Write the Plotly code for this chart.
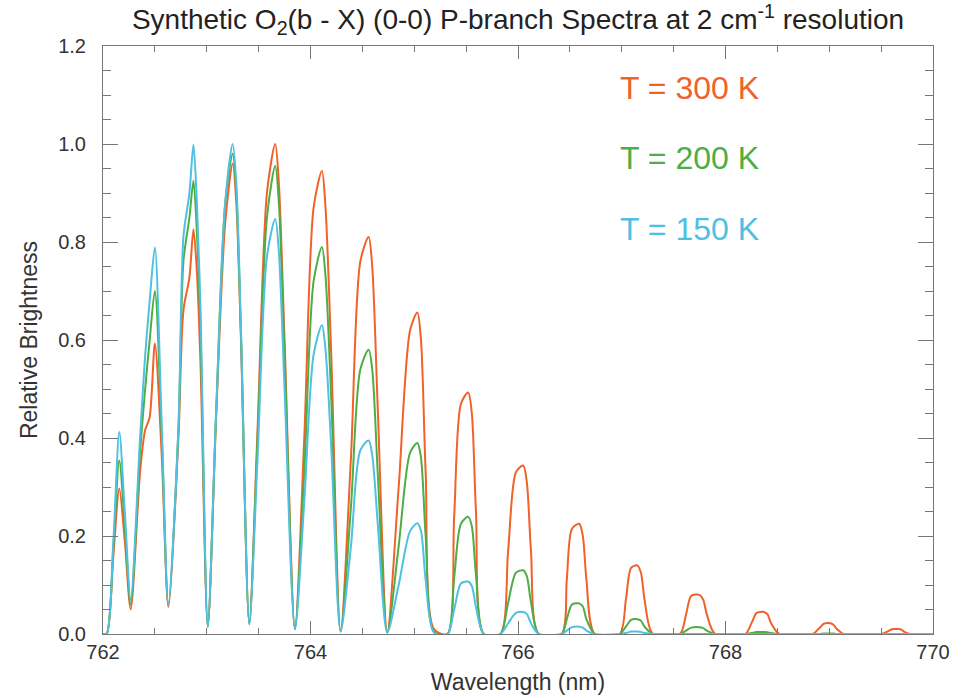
import plotly.graph_objects as go

# Wavelength sample points (nm), shared by the three synthetic spectra
wavelength = [
    762.00, 762.035, 762.10, 762.157, 762.21, 762.267,
    762.357, 762.405, 762.45, 762.50, 762.567, 762.63,
    762.727, 762.775, 762.833, 762.872, 762.905, 762.94, 763.01,
    763.09, 763.178, 763.25, 763.285, 763.33, 763.41,
    763.49, 763.58, 763.66, 763.695, 763.75, 763.85,
    763.94, 764.03, 764.11, 764.145, 764.20, 764.29,
    764.39, 764.48, 764.56, 764.595, 764.65, 764.74,
    764.85, 764.96, 765.03, 765.065, 765.11, 765.19,
    765.32, 765.385, 765.45, 765.52, 765.555, 765.595, 765.67,
    765.83, 765.905, 765.98, 766.05, 766.085, 766.125, 766.20,
    766.42, 766.47, 766.52, 766.59, 766.625, 766.66, 766.74,
    766.98, 767.04, 767.09, 767.15, 767.185, 767.22, 767.30,
    767.56, 767.62, 767.67, 767.75, 767.785, 767.82, 767.90,
    768.19, 768.25, 768.30, 768.37, 768.405, 768.44, 768.52,
    768.84, 768.90, 768.95, 769.01, 769.04, 769.07, 769.14,
    769.50, 769.56, 769.61, 769.67, 769.695, 769.72, 769.78, 770.00,
]

t300 = [
    0, 0, .16, .297, .19, .05,
    .33, .415, .443, .593, .36, .055,
    .40, .66, .728, .826, .74, .55, .015,
    .44, .84, .96, .88, .60, .02,
    .42, .90, 1.0, .92, .60, .01,
    .40, .87, .945, .87, .57, .005,
    .36, .76, .81, .75, .45, .003,
    .30, .62, .656, .60, .33, .01,
    0, .24, .47, .493, .45, .25, 0,
    0, .17, .33, .344, .31, .17, 0,
    0, .11, .215, .225, .20, .11, 0,
    0, .07, .135, .14, .125, .07, 0,
    0, .04, .078, .08, .07, .04, 0,
    0, .022, .043, .045, .04, .022, 0,
    0, .011, .021, .022, .019, .011, 0,
    0, .005, .01, .01, .009, .005, 0, 0,
]

t200 = [
    0, 0, .18, .354, .22, .06,
    .37, .497, .60, .70, .40, .06,
    .42, .76, .85, .925, .82, .62, .015,
    .45, .88, .98, .90, .61, .02,
    .40, .85, .955, .88, .57, .01,
    .33, .72, .79, .73, .48, .005,
    .26, .54, .58, .54, .32, .003,
    .18, .37, .39, .36, .20, .005,
    0, .115, .225, .239, .22, .12, 0,
    0, .064, .125, .13, .118, .065, 0,
    0, .03, .06, .0625, .056, .03, 0,
    0, .015, .029, .03, .027, .015, 0,
    0, .007, .013, .014, .012, .007, 0,
    0, .002, .004, .004, .0035, .002, 0,
    0, 0, .001, .001, .001, 0, 0,
    0, 0, 0, 0, 0, 0, 0, 0,
]

t150 = [
    0, 0, .19, .412, .25, .07,
    .40, .565, .68, .789, .42, .06,
    .42, .81, .90, .999, .88, .66, .015,
    .45, .88, 1.0, .92, .62, .02,
    .36, .77, .847, .78, .50, .01,
    .27, .57, .63, .58, .38, .005,
    .18, .375, .395, .365, .22, .003,
    .10, .21, .226, .21, .11, .003,
    0, .05, .103, .107, .098, .055, 0,
    0, .022, .043, .045, .041, .022, 0,
    0, .007, .014, .015, .013, .007, 0,
    0, .002, .005, .005, .004, .002, 0,
    0, 0, 0, 0, 0, 0, 0,
    0, 0, 0, 0, 0, 0, 0,
    0, 0, 0, 0, 0, 0, 0,
    0, 0, 0, 0, 0, 0, 0, 0,
]

series_labels = ["T = 300 K", "T = 200 K", "T = 150 K"]
series_values = [t300, t200, t150]
series_colors = ["#F0622A", "#4DAE45", "#4FC0E2"]
label_y = [1.114, 0.971, 0.827]

x_ticks = [762, 764, 766, 768, 770]

FONT = "Liberation Sans, Arial, Helvetica, sans-serif"

fig = go.Figure()
for name, vals, col in zip(series_labels, series_values, series_colors):
    fig.add_trace(go.Scatter(
        x=wavelength, y=vals, mode="lines", name=name,
        line=dict(color=col, width=2, shape="spline", smoothing=0.8),
        showlegend=False,
    ))

for name, col, yy in zip(series_labels, series_colors, label_y):
    fig.add_annotation(
        x=766.96, y=yy, xref="x", yref="y", text=name, showarrow=False,
        xanchor="left", yanchor="middle",
        font=dict(family=FONT, size=32, color=col),
    )

axis_common = dict(
    showline=True, linecolor="#777777", linewidth=1, mirror="ticks",
    ticks="inside", tickcolor="#777777", tickwidth=1,
    showgrid=False, zeroline=False, automargin=False,
    tickfont=dict(family=FONT, size=20, color="#333333"),
)

fig.update_xaxes(
    range=[762, 770], tickvals=x_ticks, ticklen=13,
    minor=dict(dtick=0.5, ticks="inside", ticklen=6, tickcolor="#777777"),
    title=dict(text="Wavelength (nm)", font=dict(family=FONT, size=23, color="#333333"), standoff=11),
    **axis_common,
)
fig.update_yaxes(
    range=[0, 1.2], dtick=0.2, tick0=0, tickformat=".1f", ticklen=15,
    minor=dict(dtick=0.05, ticks="inside", ticklen=8, tickcolor="#777777"),
    ticklabelstandoff=12,
    title=dict(text="Relative Brightness", font=dict(family=FONT, size=23, color="#333333"), standoff=14),
    **axis_common,
)

fig.update_layout(
    width=967, height=698,
    margin=dict(l=103, r=34, t=46, b=64),
    paper_bgcolor="white", plot_bgcolor="white",
    title=dict(
        text="Synthetic O<sub>2</sub>(b - X) (0-0) P-branch Spectra at 2 cm<sup>-1</sup> resolution",
        x=0.5, xref="paper", xanchor="center", y=0.972, yanchor="middle",
        font=dict(family=FONT, size=28, color="#222222"),
    ),
)

fig.write_html("out.html")
